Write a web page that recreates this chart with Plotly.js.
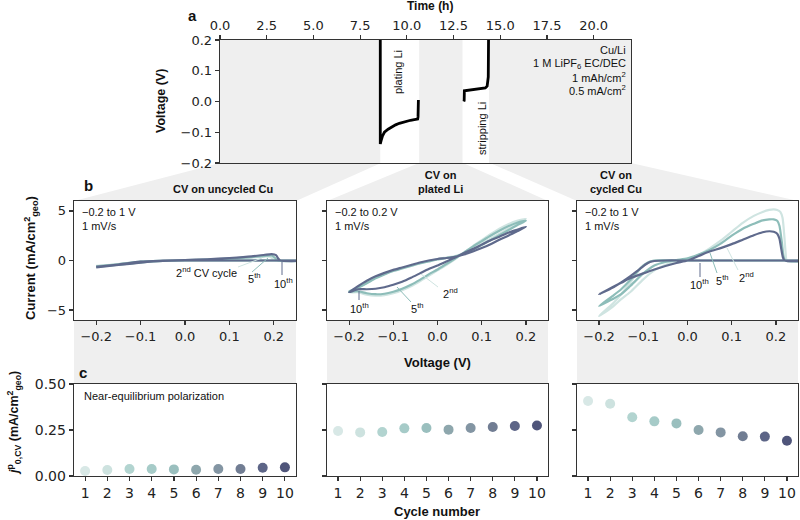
<!DOCTYPE html>
<html><head><meta charset="utf-8">
<script src="https://cdn.plot.ly/plotly-3.0.1.min.js"></script>
<style>html,body{margin:0;padding:0;background:#fff}#chart{width:800px;height:520px}</style>
</head><body><div id="chart"></div>
<script>
// ---------- Panel a: voltage vs time ----------
const timeH = [8.58,8.58,8.62,8.7,8.8,9.0,9.2,9.4,9.6,9.8,10.0,10.2,10.4,10.58,10.6,10.62,null,13.05,13.07,13.08,13.2,13.5,13.8,14.0,14.2,14.3,14.36,14.38];
const voltV = [0.25,-0.138,-0.128,-0.112,-0.1,-0.09,-0.082,-0.076,-0.071,-0.067,-0.064,-0.061,-0.059,-0.057,-0.05,0.005,null,0.0,0.003,0.035,0.036,0.037,0.039,0.041,0.044,0.05,0.08,0.25];
const grayBandStart = [0, 10.66, 14.4];
const grayBandEnd = [8.58, 12.98, 22];
const timeTicks = [0,2.5,5,7.5,10,12.5,15,17.5,20];

// ---------- Panel b: CV on uncycled Cu ----------
const ucV2 = [-0.2,-0.15,-0.1,-0.05,0,0.05,0.1,0.15,0.18,0.192,0.198,0.202,0.3,0.3,0.1,0,-0.05,-0.1,-0.15,-0.2];
const ucI2 = [-0.55,-0.35,-0.1,-0.03,0.02,0.08,0.17,0.3,0.4,0.38,0.15,0,0,0,0,0,-0.05,-0.2,-0.4,-0.6];
const ucV5 = [-0.2,-0.15,-0.1,-0.05,0,0.05,0.1,0.15,0.18,0.195,0.203,0.208,0.3,0.3,0.1,0,-0.05,-0.1,-0.15,-0.2];
const ucI5 = [-0.6,-0.38,-0.12,-0.03,0.03,0.1,0.2,0.35,0.47,0.5,0.25,0,0,0,0,0,-0.05,-0.2,-0.42,-0.65];
const ucV10 = [-0.2,-0.15,-0.1,-0.05,0,0.05,0.1,0.15,0.18,0.195,0.205,0.21,0.215,0.3,0.3,0.1,0,-0.05,-0.1,-0.15,-0.2];
const ucI10 = [-0.65,-0.4,-0.12,-0.02,0.05,0.12,0.25,0.42,0.58,0.65,0.55,0.2,0,0,0,0,0,-0.05,-0.22,-0.45,-0.7];

// ---------- Panel b: CV on plated Li ----------
const plV = [-0.2,-0.18,-0.16,-0.14,-0.12,-0.1,-0.08,-0.06,-0.04,-0.02,0,0.02,0.04,0.06,0.08,0.1,0.12,0.14,0.16,0.18,0.2,
             0.18,0.16,0.14,0.12,0.1,0.08,0.06,0.04,0.02,0,-0.02,-0.04,-0.06,-0.08,-0.1,-0.12,-0.14,-0.16,-0.18,-0.2];
const plI2 = [-3.2,-3.2,-3.45,-3.55,-3.5,-3.3,-3.0,-2.6,-2.1,-1.55,-1.0,-0.45,0.15,0.8,1.45,2.05,2.65,3.2,3.65,4.0,4.2,
              3.75,3.2,2.7,2.2,1.7,1.2,0.75,0.45,0.3,0.15,-0.05,-0.25,-0.5,-0.75,-1.0,-1.35,-1.75,-2.25,-2.75,-3.2];
const plI5 = [-3.1,-3.1,-3.3,-3.4,-3.35,-3.15,-2.85,-2.45,-1.95,-1.4,-0.9,-0.35,0.2,0.8,1.4,1.95,2.5,3.0,3.45,3.8,4.0,
              3.55,3.05,2.55,2.05,1.55,1.1,0.7,0.4,0.25,0.1,-0.1,-0.3,-0.55,-0.8,-1.05,-1.4,-1.8,-2.3,-2.75,-3.1];
const plI10 = [-3.2,-2.9,-2.9,-2.85,-2.7,-2.45,-2.15,-1.75,-1.3,-0.85,-0.5,-0.1,0.3,0.75,1.15,1.6,2.05,2.4,2.8,3.1,3.4,
               2.95,2.5,2.1,1.65,1.25,0.9,0.6,0.38,0.25,0.15,0.0,-0.2,-0.45,-0.7,-0.95,-1.25,-1.6,-2.05,-2.6,-3.2];

// ---------- Panel b: CV on cycled Cu ----------
const ccV2 = [-0.2,-0.17,-0.15,-0.13,-0.1,-0.075,-0.05,-0.025,0,0.025,0.05,0.075,0.1,0.125,0.15,0.17,0.185,0.195,0.203,0.21,0.215,0.219,0.222,0.225,0.3,
              0.3,0.1,0,-0.07,-0.08,-0.09,-0.1,-0.11,-0.13,-0.15,-0.17,-0.2];
const ccI2 = [-5.6,-4.7,-3.9,-3.2,-1.9,-1.0,-0.45,-0.1,0.07,0.55,1.23,2.0,2.9,3.8,4.5,4.9,5.1,5.15,5.1,4.9,4.3,2.5,0.8,0,0,
              0,0,0,0,-0.05,-0.25,-0.55,-1.0,-2.27,-3.4,-4.4,-5.6];
const ccV5 = [-0.2,-0.17,-0.15,-0.13,-0.1,-0.075,-0.05,-0.025,0,0.025,0.05,0.075,0.1,0.125,0.15,0.17,0.185,0.195,0.203,0.208,0.213,0.217,0.221,0.3,
              0.3,0.1,0,-0.075,-0.085,-0.095,-0.105,-0.115,-0.13,-0.15,-0.17,-0.2];
const ccI5 = [-4.6,-3.9,-3.4,-2.6,-1.3,-0.5,-0.15,0.05,0.22,0.6,1.07,1.7,2.5,3.2,3.7,4.05,4.15,4.15,4.0,3.5,2.0,0.5,0,0,
              0,0,0,0,-0.1,-0.35,-0.7,-1.2,-2.0,-2.9,-3.6,-4.6];
const ccV10 = [-0.2,-0.17,-0.15,-0.13,-0.1,-0.075,-0.05,-0.025,0,0.025,0.05,0.075,0.1,0.125,0.15,0.17,0.185,0.195,0.203,0.208,0.212,0.216,0.22,0.3,
               0.3,0.1,0,-0.05,-0.075,-0.085,-0.095,-0.105,-0.115,-0.13,-0.15,-0.17,-0.2];
const ccI10 = [-3.4,-2.7,-2.25,-1.8,-1.3,-0.9,-0.55,-0.25,0,0.45,0.9,1.25,1.65,2.1,2.55,2.85,2.95,2.9,2.7,2.2,1.2,0.3,0,0,
               0,0,0,0,-0.05,-0.15,-0.4,-0.75,-1.1,-1.6,-2.2,-2.75,-3.4];
const voltTicks = [-0.2,-0.1,0,0.1,0.2];

// ---------- Panel c: exchange current vs cycle ----------
const cycles = [1,2,3,4,5,6,7,8,9,10];
const j0Uncycled = [0.027,0.033,0.038,0.038,0.036,0.034,0.038,0.038,0.045,0.047];
const j0Plated = [0.245,0.237,0.239,0.259,0.261,0.252,0.261,0.266,0.272,0.274];
const j0Cycled = [0.408,0.393,0.319,0.297,0.286,0.25,0.237,0.216,0.214,0.192];
const cycleColors = ['#d8e8e6','#cde2df','#b2d4d0','#a6cbc8','#9abfbe','#8ea7ad','#8395a3','#717d93','#5d6587','#4f557a'];

const col2 = '#cfe4e1', col5 = '#8dbdb9', col10 = '#5f6a8c';
const GRAY = '#efefef';
const P = x => x/800, Q = y => 1 - y/520;
const TICKF = {family:'DejaVu Sans', size:13, color:'#222'};
const SANS = 'Liberation Sans, Arial, sans-serif';

function ax(extra){
  return Object.assign({showgrid:false, zeroline:false, showline:true, mirror:true, linecolor:'#333', linewidth:1.3,
    ticks:'outside', ticklen:4, tickwidth:1.2, tickcolor:'#333', tickfont:TICKF}, extra);
}

const bCols = [[74,296],[327,548],[577,798]];
const traces = [];
traces.push({x:timeH, y:voltV, xaxis:'x', yaxis:'y', mode:'lines', line:{color:'#000', width:2.8}, connectgaps:false, hoverinfo:'skip'});
const cvSets = [
  [[ucV2,ucI2,col2],[ucV5,ucI5,col5],[ucV10,ucI10,col10]],
  [[plV,plI2,col2],[plV,plI5,col5],[plV,plI10,col10]],
  [[ccV2,ccI2,col2],[ccV5,ccI5,col5],[ccV10,ccI10,col10]]
];
cvSets.forEach((set,k)=>{
  set.forEach(([vx,iy,c])=>{
    traces.push({x:vx, y:iy, xaxis:'x'+(k+2), yaxis:'y'+(k+2), mode:'lines', line:{color:c, width:2.2, shape:'spline', smoothing:0.6}, hoverinfo:'skip'});
  });
});
[j0Uncycled,j0Plated,j0Cycled].forEach((arr,k)=>{
  traces.push({x:cycles, y:arr, xaxis:'x'+(k+5), yaxis:'y'+(k+5), mode:'markers', marker:{size:10, color:cycleColors}, hoverinfo:'skip', cliponaxis:false});
});

const layout = {
  width:800, height:520, margin:{l:0,r:0,t:0,b:0}, showlegend:false,
  paper_bgcolor:'#fff', plot_bgcolor:'#fff',
  xaxis: ax({domain:[P(220),P(631)], range:[0,22], side:'top', anchor:'y', tickvals:timeTicks, tickformat:'.1f', mirror:true}),
  yaxis: ax({domain:[Q(163),Q(40)], range:[-0.2,0.2], anchor:'x', tickvals:[-0.2,-0.1,0,0.1,0.2], tickformat:'.1f'}),
  annotations:[], shapes:[]
};
for(let k=0;k<3;k++){
  const n=k+2, m=k+5, d=[P(bCols[k][0]),P(bCols[k][1])];
  layout['xaxis'+n] = ax({domain:d, range:[-0.25,0.25], anchor:'y'+n, tickvals:voltTicks, tickformat:'.1f'});
  layout['yaxis'+n] = ax({domain:[Q(320),Q(201)], range:[-6,6], anchor:'x'+n, tickvals:[-5,0,5], showticklabels:k===0});
  layout['xaxis'+m] = ax({domain:d, range:[0.5,10.5], anchor:'y'+m, tickvals:cycles, tickfont:Object.assign({},TICKF,{size:14})});
  layout['yaxis'+m] = ax({domain:[Q(476),Q(384)], range:[0,0.5], anchor:'x'+m, tickvals:[0,0.25,0.5], tickformat:'.2f', showticklabels:k===0, tickfont:Object.assign({},TICKF,{size:14})});
}

// gray background bands in panel a
grayBandStart.forEach((s,i)=>{
  layout.shapes.push({type:'rect', xref:'x', yref:'y', x0:s, x1:grayBandEnd[i], y0:-0.2, y1:0.2, fillcolor:GRAY, line:{width:0}, layer:'below'});
});
// funnels and columns (paper)
function poly(pts){ return 'M'+pts.map(p=>P(p[0])+','+Q(p[1])).join(' L')+' Z'; }
const funnels = [
  [[220,163],[381,163],[296,201],[74,201]],
  [[419,163],[463,163],[548,201],[327,201]],
  [[490,163],[631,163],[798,201],[577,201]]
];
funnels.forEach(f=>layout.shapes.push({type:'path', xref:'paper', yref:'paper', path:poly(f), fillcolor:GRAY, line:{width:0}, layer:'below'}));
bCols.forEach(c=>layout.shapes.push({type:'rect', xref:'paper', yref:'paper', x0:P(c[0]), x1:P(c[1]), y0:Q(384), y1:Q(320), fillcolor:GRAY, line:{width:0}, layer:'below'}));

// pointer lines
const pointers = [
  [238,267,262,258,col2],[252,272,268,258,col5],[282,262,282,275,col10],
  [359,291,359,300,col10],[411,302,397,287,col5],[438,287,421,274,col2],
  [700,277,700,263,col10],[717,273,710,253,col5],[738,270,727,248,col2]
];
pointers.forEach(p=>layout.shapes.push({type:'line', xref:'paper', yref:'paper', x0:P(p[0]), y0:Q(p[1]), x1:P(p[2]), y1:Q(p[3]), line:{color:p[4], width:1}}));

function A(text,x,y,o){
  layout.annotations.push(Object.assign({text, x:P(x), y:Q(y), xref:'paper', yref:'paper', showarrow:false,
    font:{family:SANS, size:11, color:'#111'}, xanchor:'center', yanchor:'middle'}, o||{}));
}
const B = (s)=>({family:SANS, size:s, color:'#111', weight:'bold'});
A('<b>a</b>',192,15,{font:B(15)});
A('<b>Time (h)</b>',430,6,{font:B(12)});
A('<b>Voltage (V)</b>',161,101,{font:B(12.5), textangle:-90});
A('Cu/Li',628,50,{xanchor:'right'});
A('1 M LiPF<sub>6</sub> EC/DEC',628,64,{xanchor:'right'});
A('1 mAh/cm<sup>2</sup>',628,77,{xanchor:'right'});
A('0.5 mA/cm<sup>2</sup>',628,90,{xanchor:'right'});
A('plating Li',398,72,{textangle:-90});
A('stripping Li',482,129,{textangle:-90});
A('<b>b</b>',88,185,{font:B(15)});
A('<b>CV on uncycled Cu</b>',223,189,{font:B(11)});
A('<b>CV on<br>plated Li</b>',440,182,{font:B(11)});
A('<b>CV on<br>cycled Cu</b>',616,182,{font:B(11)});
A('<b>Current (mA/cm<sup>2</sup><sub>geo</sub>)</b>',31,258,{font:B(13), textangle:-90});
A('\u22120.2 to 1 V<br>1 mV/s',80,219,{xanchor:'left', align:'left'});
A('\u22120.2 to 0.2 V<br>1 mV/s',333,219,{xanchor:'left', align:'left'});
A('\u22120.2 to 1 V<br>1 mV/s',583,219,{xanchor:'left', align:'left'});
A('2<sup>nd</sup> CV cycle',207,272);
A('5<sup>th</sup>',254,278);
A('10<sup>th</sup>',283,283);
A('10<sup>th</sup>',359,308);
A('5<sup>th</sup>',417,308);
A('2<sup>nd</sup>',450,293);
A('10<sup>th</sup>',699,284);
A('5<sup>th</sup>',722,280);
A('2<sup>nd</sup>',746,277);
A('<b>Voltage (V)</b>',437,362,{font:B(13)});
A('<b>c</b>',83,372,{font:B(15)});
A('Near-equilibrium polarization',82,396,{xanchor:'left'});
A('<b><i>j</i><sup>p</sup><sub>0,CV</sub> (mA/cm<sup>2</sup><sub>geo</sub>)</b>',14,423,{font:B(12.5), textangle:-90});
A('<b>Cycle number</b>',437,511,{font:B(13)});

Plotly.newPlot('chart', traces, layout, {staticPlot:true, displayModeBar:false});
</script></body></html>
